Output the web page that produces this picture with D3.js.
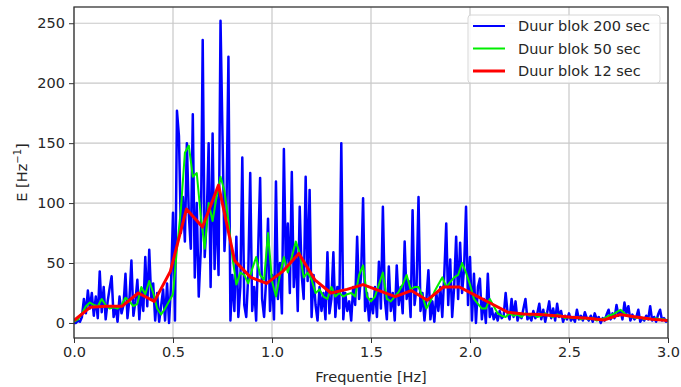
<!DOCTYPE html>
<html>
<head>
<meta charset="utf-8">
<script src="https://cdn.jsdelivr.net/npm/d3@7"></script>
<style>
  body { margin: 0; background: #fff; }
  text { font-family: 'DejaVu Sans', sans-serif; fill: #262626; }
</style>
</head>
<body>
<div id="chart"></div>
<script>
const WIDTH = 681;
const HEIGHT = 387;
const margin = { top: 7, right: 13, bottom: 49, left: 74 };

// spectral estimates
const blueStep = 0.01;  // Duur blok 200 sec
const blueValues = [
  0, 0, 2, 1, 5, 20, 8, 27, 12, 25,
  6, 22, 4, 43, 9, 30, 3, 18, 29, 39,
  5, 14, 1, 22, 8, 15, 41, 4, 20, 52,
  6, 18, 36, 3, 28, 10, 55, 14, 61, 20,
  33, 2, 25, 1, 14, 28, 2, 33, 0, 32,
  92, 2, 177, 156, 75, 105, 68, 150, 90, 62,
  174, 38, 100, 22, 60, 236, 55, 85, 150, 30,
  158, 45, 105, 40, 252, 156, 60, 95, 222, 2,
  40, 10, 72, 5, 30, 138, 15, 5, 40, 125,
  10, 30, 2, 60, 121, 20, 5, 35, 87, 10,
  40, 3, 118, 20, 50, 8, 145, 45, 83, 25,
  126, 30, 65, 10, 97, 40, 20, 122, 35, 111,
  5, 40, 15, 2, 30, 10, 25, 3, 59, 8,
  20, 59, 5, 30, 12, 150, 3, 25, 10, 18,
  2, 30, 15, 72, 20, 40, 104, 10, 25, 2,
  20, 8, 30, 5, 51, 12, 97, 20, 3, 47,
  10, 25, 2, 48, 15, 30, 8, 68, 20, 35,
  5, 94, 15, 30, 105, 10, 25, 2, 20, 44,
  3, 18, 1, 25, 10, 30, 5, 40, 83, 15,
  53, 5, 30, 72, 20, 67, 25, 45, 97, 15,
  55, 2, 41, 0, 30, 37, 3, 20, 0, 41,
  5, 12, 3, 8, 2, 10, 4, 6, 25, 8,
  3, 20, 5, 18, 2, 8, 4, 12, 20, 3,
  6, 2, 10, 4, 8, 16, 3, 11, 1, 9,
  18, 4, 12, 2, 16, 5, 10, 1, 6, 3,
  8, 2, 5, 1, 11, 3, 6, 2, 9, 4,
  2, 6, 1, 8, 3, 5, 0, 4, 2, 7,
  11, 3, 8, 4, 15, 6, 10, 3, 17, 8,
  14, 2, 7, 3, 5, 11, 1, 4, 2, 6,
  3, 14, 2, 5, 1, 7, 11, 2, 4, 1,
  2
];

const greenStep = 0.02;  // Duur blok 50 sec
const greenValues = [
  1, 3, 8, 14, 17, 15, 14, 20, 15, 12,
  13, 12, 15, 21, 18, 14, 16, 30, 24, 35,
  25, 12, 7, 12, 18, 24, 62, 95, 142, 148,
  122, 125, 90, 62, 100, 85, 105, 122, 110, 85,
  55, 32, 42, 40, 33, 45, 55, 40, 36, 75,
  35, 22, 40, 55, 42, 55, 68, 58, 38, 42,
  36, 25, 28, 22, 20, 30, 22, 25, 22, 24,
  25, 22, 40, 48, 22, 18, 22, 32, 42, 20,
  18, 22, 26, 32, 40, 28, 30, 30, 22, 12,
  18, 26, 32, 38, 30, 34, 38, 40, 50, 42,
  32, 20, 16, 12, 12, 20, 14, 8, 6, 5,
  8, 6, 7, 5, 8, 6, 7, 5, 6, 8,
  6, 5, 7, 6, 4, 5, 4, 5, 3, 4,
  3, 4, 2, 3, 4, 6, 7, 9, 11, 8,
  6, 5, 4, 5, 3, 4, 3, 4, 3, 3,
  2
];

const redStep = 0.0811;  // Duur blok 12 sec
const redValues = [
  2, 13, 14, 14, 25, 18, 43, 95, 80, 115,
  52, 38, 33, 43, 58, 36, 25, 28, 32, 27,
  22, 27, 19, 30, 30, 23, 16, 9, 7.5, 7,
  6, 4.7, 4, 2.5, 7, 5, 3, 2
];

const series = [
  { label: 'Duur blok 200 sec', color: '#0000ff', width: 2.5, legendWidth: 2, step: blueStep, values: blueValues },
  { label: 'Duur blok 50 sec', color: '#00ee00', width: 2, legendWidth: 2, step: greenStep, values: greenValues },
  { label: 'Duur blok 12 sec', color: '#ff0000', width: 3, legendWidth: 3, step: redStep, values: redValues },
];

const xTicks = [0, 0.5, 1, 1.5, 2, 2.5, 3];
const yTicks = [0, 50, 100, 150, 200, 250];

const w = WIDTH - margin.left - margin.right;
const h = HEIGHT - margin.top - margin.bottom;

const svg = d3
  .select('#chart')
  .append('svg')
  .attr('width', WIDTH)
  .attr('height', HEIGHT)
  .append('g')
  .attr('transform', `translate(${margin.left}, ${margin.top})`);

const x = d3.scaleLinear().domain([0, 3]).range([0, w]);
const y = d3.scaleLinear().domain([-12.55, 263.55]).range([h, 0]);

svg
  .append('defs')
  .append('clipPath')
  .attr('id', 'clip')
  .append('rect')
  .attr('width', w)
  .attr('height', h);

// grid
svg
  .append('g')
  .selectAll('line')
  .data(xTicks)
  .join('line')
  .attr('x1', (d) => x(d))
  .attr('x2', (d) => x(d))
  .attr('y1', 0)
  .attr('y2', h)
  .attr('stroke', '#c8c8c8')
  .attr('stroke-width', 1.2);
svg
  .append('g')
  .selectAll('line')
  .data(yTicks)
  .join('line')
  .attr('x1', 0)
  .attr('x2', w)
  .attr('y1', (d) => y(d))
  .attr('y2', (d) => y(d))
  .attr('stroke', '#c8c8c8')
  .attr('stroke-width', 1.2);

// lines
const plot = svg.append('g').attr('clip-path', 'url(#clip)');
series.forEach((s) => {
  plot
    .append('path')
    .datum(s.values)
    .attr('fill', 'none')
    .attr('stroke', s.color)
    .attr('stroke-width', s.width)
    .attr('stroke-linejoin', 'round')
    .attr('d', d3.line().x((d, i) => x(i * s.step)).y((d) => y(d)));
});

// axes
const xAxis = svg
  .append('g')
  .attr('transform', `translate(0, ${h})`)
  .call(d3.axisBottom(x).tickValues(xTicks).tickFormat(d3.format('.1f')).tickSize(5).tickPadding(4));
const yAxis = svg
  .append('g')
  .call(d3.axisLeft(y).tickValues(yTicks).tickSize(5).tickPadding(4));
[xAxis, yAxis].forEach((a) => {
  a.select('.domain').remove();
  a.selectAll('line').attr('stroke', '#333');
  a.selectAll('text').style('font-size', '14.5px').style('fill', '#262626');
});

// frame
svg
  .append('rect')
  .attr('width', w)
  .attr('height', h)
  .attr('fill', 'none')
  .attr('stroke', '#333')
  .attr('stroke-width', 1.3);

// labels
svg
  .append('text')
  .attr('x', w / 2)
  .attr('y', h + 44)
  .attr('text-anchor', 'middle')
  .style('font-size', '14.5px')
  .text('Frequentie [Hz]');
const yl = svg
  .append('text')
  .attr('transform', `translate(-47, ${h / 2}) rotate(-90)`)
  .attr('text-anchor', 'middle')
  .style('font-size', '14.5px');
yl.append('tspan').text('E [Hz');
yl.append('tspan').attr('dy', -6).style('font-size', '10px').text('\u22121');
yl.append('tspan').attr('dy', 6).text(']');

// legend
const legend = svg.append('g').attr('transform', `translate(${w - 200}, 8)`);
legend
  .append('rect')
  .attr('width', 192)
  .attr('height', 68)
  .attr('rx', 3)
  .attr('fill', 'rgba(255,255,255,0.85)')
  .attr('stroke', '#d6d6d6');
series.forEach((s, i) => {
  const row = legend.append('g').attr('transform', `translate(0, ${11 + i * 22.5})`);
  row
    .append('line')
    .attr('x1', 5)
    .attr('x2', 37)
    .attr('stroke', s.color)
    .attr('stroke-width', s.legendWidth);
  row
    .append('text')
    .attr('x', 50)
    .attr('dy', '0.35em')
    .style('font-size', '14.5px')
    .text(s.label);
});
</script>
</body>
</html>
